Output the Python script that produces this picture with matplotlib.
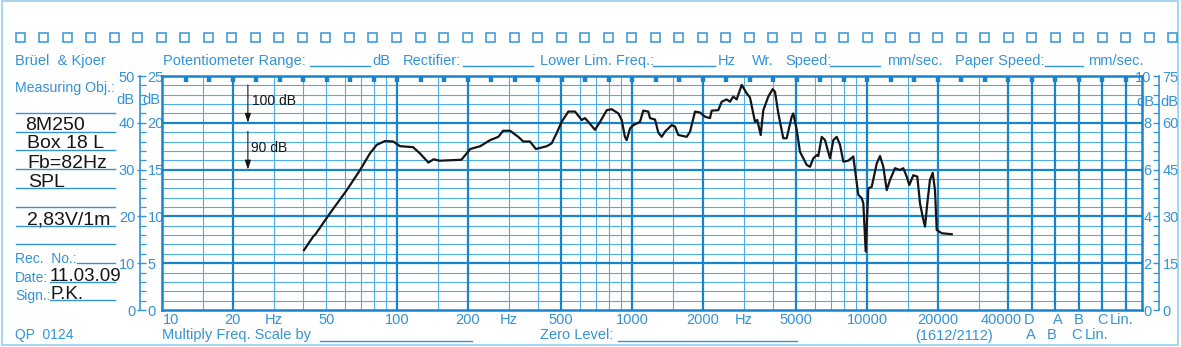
import matplotlib
matplotlib.use("Agg")
import matplotlib.pyplot as plt
from matplotlib.patches import Rectangle
from matplotlib.lines import Line2D

plt.rcParams['font.family'] = ['Liberation Sans', 'DejaVu Sans']

# ---------------- data ----------------
freq = [40.2, 44.0, 45.0, 51.9, 61.1, 69.6, 76.8, 82.0, 88.9, 96.4, 103, 117, 125, 136, 143,
        152, 188, 205, 226, 249, 270, 283, 303, 328, 345, 368, 390, 434, 455, 478, 502, 536,
        572, 611, 631, 652, 696, 731, 781, 820, 875, 904, 933, 949, 981, 1013, 1081, 1117,
        1173, 1193, 1253, 1294, 1338, 1382, 1475, 1524, 1574, 1709, 1766, 1854, 1947, 2045,
        2147, 2183, 2329, 2408, 2529, 2612, 2698, 2789, 2930, 3076, 3177, 3337, 3412, 3529,
        3621, 3802, 3969, 4060, 4194, 4404, 4552, 4782, 4858, 5022, 5186, 5538, 5720, 5908,
        6109, 6206, 6415, 6627, 6960, 7190, 7431, 7676, 7929, 8326, 8744, 9183, 9493, 9645,
        9874, 10128, 10471, 11000, 11360, 11734, 12130, 12530, 13156, 13817, 14272, 14754,
        15135, 15740, 16370, 16807, 17258, 17652, 18055, 18535, 19036, 19470, 19800, 20795,
        22935]
spl_db = [12.8, 15.7, 16.2, 20.7, 25.6, 29.9, 33.5, 35.3, 36.1, 36.0, 35.0, 34.8, 33.5, 31.5,
          32.2, 31.9, 32.1, 34.4, 35.0, 36.3, 37.0, 38.3, 38.3, 37.0, 36.0, 36.0, 34.4, 35.0,
          35.6, 37.8, 40.2, 42.4, 42.4, 40.6, 41.0, 40.2, 38.5, 40.2, 42.7, 42.9, 42.0, 40.6,
          37.0, 36.3, 38.8, 39.5, 40.2, 42.6, 42.4, 41.0, 40.7, 37.9, 37.0, 38.1, 39.5, 39.2,
          37.4, 37.0, 38.1, 42.4, 42.2, 41.3, 41.0, 42.6, 42.7, 44.5, 45.0, 44.5, 45.6, 45.0,
          48.1, 46.3, 45.4, 40.2, 40.6, 37.4, 42.7, 45.6, 47.2, 46.6, 42.0, 36.7, 36.7, 41.3,
          42.0, 38.5, 33.8, 31.0, 30.6, 32.4, 33.1, 32.9, 37.0, 36.3, 32.4, 36.3, 37.0, 35.3,
          31.7, 31.9, 32.8, 24.6, 23.9, 22.8, 12.5, 26.0, 26.3, 31.3, 32.9, 30.6, 25.6, 27.8,
          30.3, 29.9, 30.3, 28.5, 26.7, 28.8, 28.5, 22.8, 19.9, 17.8, 22.8, 27.8, 29.3, 25.6,
          17.1, 16.4, 16.2]

major_freq_lines = [20, 100, 200, 500, 1000, 2000, 5000, 10000, 20000, 40000]
minor_freq_lines = [15, 30, 40, 50, 60, 70, 80, 90, 150, 300, 400, 600, 700, 800, 900,
                    1500, 3000, 4000, 6000, 7000, 8000, 9000, 15000, 30000]
weighting_cols = [40000 * 10 ** (0.1 * k) for k in range(1, 6)]   # D, A, B, C, Lin columns
third_octave_marks = [10 ** (1 + 0.1 * k) for k in range(1, 42)]

x_labels = ["10", "20", "Hz", "50", "100", "200", "Hz", "500", "1000", "2000", "Hz",
            "5000", "10000", "20000", "40000"]
x_label_freqs = [10, 20, 30, 50, 100, 200, 300, 500, 1000, 2000, 3000, 5000, 10000, 20000, 40000]
col_labels = ["D", "A", "B", "C", "Lin."]

left_outer = [0, 10, 20, 30, 40, 50]
left_inner = [0, 5, 10, 15, 20, 25]
right_outer = [0, 2, 4, 6, 8, 10]
right_inner = [0, 15, 30, 45, 60, 75]

# ---------------- style ----------------
BLUE_TXT = '#3393d6'
BLUE_MAJ = '#1884cd'
BLUE_MIN = '#50ade5'
FRAME = '#a9d6ef'
INK = '#151515'

W, H = 1181, 347
fig = plt.figure(figsize=(W / 100, H / 100), dpi=100)

# background overlay in pixel coordinates
bg = fig.add_axes([0, 0, 1, 1], zorder=-1)
bg.set_xlim(0, W)
bg.set_ylim(H, 0)
bg.axis('off')

bg.add_patch(Rectangle((2, 1), 1176, 344, fill=False, edgecolor=FRAME, lw=1.5))
for i in range(50):
    cx = 20 + 23.53 * i
    bg.add_patch(Rectangle((cx - 4.5, 32.5), 9, 9, fill=False, edgecolor=BLUE_TXT, lw=1.1))

def btxt(x, y, s, **kw):
    kw.setdefault('fontsize', 10.5)
    kw.setdefault('color', BLUE_TXT)
    kw.setdefault('va', 'center')
    bg.text(x, y, s, **kw)

def bline(x0, x1, y, color=BLUE_TXT, lw=1.0):
    bg.add_line(Line2D([x0, x1], [y, y], color=color, lw=lw))

# header
btxt(15, 61, "Brüel  & Kjoer")
btxt(163, 61, "Potentiometer Range:")
bline(310, 370, 66)
btxt(372, 61, "dB")
btxt(403, 61, "Rectifier:")
bline(463, 533, 66)
btxt(540, 61, "Lower Lim. Freq.:")
bline(653, 715, 66)
btxt(718, 61, "Hz")
btxt(752, 61, "Wr.")
btxt(785, 61, "Speed:")
bline(830, 880, 66)
btxt(887, 61, "mm/sec.")
btxt(955, 61, "Paper Speed:")
bline(1045, 1083, 66)
btxt(1088, 61, "mm/sec.")

# left panel
btxt(15, 88, "Measuring Obj.:", fontsize=10.2)
for yl in [112.7, 131.7, 150, 169.3, 187.7, 206.7, 225.7, 244]:
    bline(16, 115, yl)
ink_kw = dict(color=INK, fontsize=14, va='baseline')
bg.text(25, 129.5, "8M250", **ink_kw)
bg.text(27, 148.3, "Box 18 L", **ink_kw)
bg.text(27, 168, "Fb=82Hz", **ink_kw)
bg.text(28, 187, "SPL", **ink_kw)
bg.text(27, 224, "2,83V/1m", **ink_kw)
btxt(15, 259, "Rec.  No.:", fontsize=10)
bline(77, 115, 263)
btxt(15, 278, "Date:", fontsize=10)
bline(50, 115, 282)
bg.text(50, 281, "11.03.09", color=INK, fontsize=13.5, va='baseline')
btxt(15, 296, "Sign.:", fontsize=10)
bline(50, 115, 300)
bg.text(50, 299, "P.K.", color=INK, fontsize=13.5, va='baseline')
btxt(15, 335, "QP  0124", fontsize=10)

# bottom
btxt(162, 335, "Multiply Freq. Scale by")
bline(320, 472, 341)
btxt(540, 335, "Zero Level:")
bline(618, 797, 341)
btxt(954, 336, "(1612/2112)", ha='center')
for s, xc in zip(["A", "B", "C", "Lin."], [1031, 1052, 1076, 1097]):
    btxt(xc, 335, s, ha='center')

# ---------------- main chart ----------------
ax = fig.add_axes([162 / W, (H - 310) / H, 980 / W, 234 / H])
ax.set_xscale('log')
ax.set_xlim(10, 10 ** 5.1702)
ax.set_ylim(0, 50)
ax.tick_params(which='both', length=0, labelbottom=False, labelleft=False)
for sp in ax.spines.values():
    sp.set_color(BLUE_MAJ)
    sp.set_linewidth(1.8)

for d in range(2, 50, 2):
    if d % 10 == 0:
        ax.axhline(d, color=BLUE_MAJ, lw=1.6, zorder=2)
    else:
        ax.axhline(d, color=BLUE_MIN, lw=0.8, zorder=1)
for f in minor_freq_lines:
    ax.axvline(f, color=BLUE_MIN, lw=0.8, zorder=1)
for f in major_freq_lines + weighting_cols:
    ax.axvline(f, color=BLUE_MAJ, lw=1.6, zorder=2)
ax.vlines(third_octave_marks, 50 - 6 / 4.68, 50, color=BLUE_MAJ, lw=3.2, zorder=3)

ax.plot(freq, spl_db, color=INK, lw=1.6, zorder=5, solid_joinstyle='round')

# range arrows
arrow_kw = dict(arrowstyle='-|>,head_width=0.18,head_length=0.55', color=INK, lw=0.8,
                mutation_scale=10, shrinkA=0, shrinkB=0)
ax.annotate('', xy=(23.2, 40), xytext=(23.2, 48.1), arrowprops=arrow_kw, zorder=6)
ax.annotate('', xy=(23.2, 30), xytext=(23.2, 38.2), arrowprops=arrow_kw, zorder=6)
ax.text(24.1, 44.7, "100 dB", color=INK, fontsize=10, va='center', zorder=6)
ax.text(24.0, 34.6, "90 dB", color=INK, fontsize=10, va='center', zorder=6)

# x labels
lab_kw = dict(xycoords=('data', 'axes fraction'), textcoords='offset pixels',
              color=BLUE_TXT, fontsize=10.5, va='center', annotation_clip=False)
for f, s in zip(x_label_freqs, x_labels):
    if s == "10":
        ax.annotate(s, xy=(f, 0), xytext=(1, -10), ha='left', **lab_kw)
    elif s == "40000":
        ax.annotate(s, xy=(f, 0), xytext=(-7, -10), ha='center', **lab_kw)
    else:
        ax.annotate(s, xy=(f, 0), xytext=(0, -10), ha='center', **lab_kw)
for f, s, dx in zip(weighting_cols, col_labels, [-3, 2, 0, 0, -4]):
    ax.annotate(s, xy=(f, 0), xytext=(dx, -10), ha='center', **lab_kw)

# left scales
loc_left = (140 - 162) / 980
sec_in = ax.secondary_yaxis(loc_left, functions=(lambda d: d / 2, lambda v: v * 2))
sec_in.set_alignment('right')
sec_in.set_yticks(left_inner)
sec_in.set_yticks(range(0, 26), minor=True)
sec_in.tick_params(which='major', direction='out', length=4.5, width=1.0, colors=BLUE_TXT,
                   labelsize=10.5, pad=1)
sec_in.tick_params(which='minor', direction='out', length=4.0, width=0.9, colors=BLUE_TXT)
for sp in sec_in.spines.values():
    sp.set_color(BLUE_TXT)
    sp.set_linewidth(1.2)

sec_out = ax.secondary_yaxis(loc_left, functions=(lambda d: d, lambda d: d))
sec_out.set_alignment('left')
sec_out.set_yticks(left_outer)
sec_out.tick_params(which='both', direction='out', length=2, width=1.0, colors=BLUE_TXT,
                    labelsize=10.5, pad=1.5)
sec_out.yaxis.set_minor_locator(matplotlib.ticker.NullLocator())
for sp in sec_out.spines.values():
    sp.set_visible(False)

# right scales
loc_right = (1158.5 - 162) / 980
sec_r = ax.secondary_yaxis(loc_right, functions=(lambda d: d * 1.5, lambda v: v / 1.5))
sec_r.set_yticks(right_inner)
sec_r.set_yticks(range(0, 76, 3), minor=True)
sec_r.tick_params(which='major', direction='in', length=4.5, width=1.0, colors=BLUE_TXT,
                  labelsize=10.5, pad=3)
sec_r.tick_params(which='minor', direction='in', length=4.0, width=0.9, colors=BLUE_TXT)
for sp in sec_r.spines.values():
    sp.set_color(BLUE_TXT)
    sp.set_linewidth(1.2)

sec_r2 = ax.secondary_yaxis(loc_right, functions=(lambda d: d / 5, lambda v: v * 5))
sec_r2.set_alignment('left')
sec_r2.set_yticks(right_outer)
sec_r2.yaxis.set_minor_locator(matplotlib.ticker.NullLocator())
sec_r2.tick_params(which='both', length=0, colors=BLUE_TXT, labelsize=10.5, pad=5)
for sp in sec_r2.spines.values():
    sp.set_visible(False)

# dB unit labels
unit_kw = dict(color=BLUE_TXT, fontsize=10.5, va='center', xycoords=('axes fraction', 'data'),
               textcoords='offset pixels', annotation_clip=False)
ax.annotate("dB", xy=(loc_left, 44.8), xytext=(-6, 0), ha='right', **unit_kw)
ax.annotate("dB", xy=(loc_left, 44.8), xytext=(2, 0), ha='left', **unit_kw)
ax.annotate("dB", xy=(loc_right, 44.5), xytext=(-4, 0), ha='right', **unit_kw)
ax.annotate("dB", xy=(loc_right, 44.5), xytext=(2, 0), ha='left', **unit_kw)

fig.savefig("out.png", dpi=100)
